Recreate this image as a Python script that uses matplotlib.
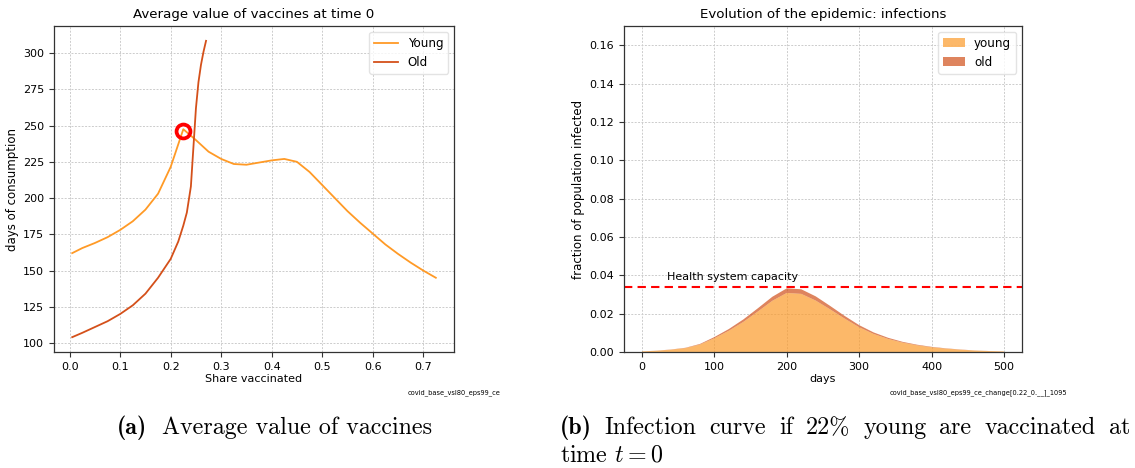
import matplotlib

matplotlib.use("Agg")
import matplotlib.pyplot as plt

# panel (a): average value of vaccines at time 0
share_young = [0.005, 0.025, 0.05, 0.075, 0.1, 0.125, 0.15, 0.175, 0.2, 0.225,
               0.25, 0.275, 0.3, 0.325, 0.35, 0.375, 0.4, 0.425, 0.45, 0.475,
               0.5, 0.525, 0.55, 0.575, 0.6, 0.625, 0.65, 0.675, 0.7, 0.725]
value_young = [162, 165.5, 169, 173, 178, 184, 192, 203, 221.5, 247.5,
               240, 232, 227, 223.5, 223, 224.5, 226, 227, 225, 218,
               209, 200, 191, 183, 175.5, 168, 161.5, 155.5, 150, 145]
share_old = [0.005, 0.025, 0.05, 0.075, 0.1, 0.125, 0.15, 0.175, 0.2, 0.215,
             0.225, 0.232, 0.24, 0.245, 0.25, 0.255, 0.26, 0.265, 0.27]
value_old = [104, 107, 111, 115, 120, 126, 134, 145, 158, 170,
             181, 190, 208, 235, 262, 280, 292, 301, 308.5]
marked_share = 0.225
marked_value = 246.5

# panel (b): infections with 22% young vaccinated
days = [0, 20, 40, 60, 80, 100, 120, 140, 160, 180, 200, 220, 240,
        260, 280, 300, 320, 340, 360, 380, 400, 420, 440, 460, 480, 500]
infected_young = [0.00028, 0.00065, 0.0012, 0.00204, 0.0039, 0.0072, 0.0111,
                  0.0157, 0.0211, 0.0267, 0.0308, 0.0303, 0.0268, 0.0222,
                  0.0174, 0.0129, 0.0094, 0.0068, 0.0049, 0.0035, 0.0025,
                  0.00175, 0.0012, 0.00074, 0.00046, 0.00028]
infected_old = [0.00002, 0.00005, 0.0001, 0.00016, 0.0003, 0.0006, 0.0009,
                0.0013, 0.0017, 0.0021, 0.0024, 0.0024, 0.0022, 0.0018,
                0.0014, 0.0011, 0.0008, 0.0006, 0.0004, 0.0003, 0.0002,
                0.00015, 0.0001, 0.00006, 0.00004, 0.00002]
capacity = 0.0337

caption_b_words = ["Infection", "curve", "if", "22%", "young", "are",
                   "vaccinated", "at"]

plt.rcParams.update({
    "font.family": "DejaVu Sans",
    "font.size": 8,
    "axes.edgecolor": "#333333",
    "axes.linewidth": 0.9,
    "xtick.color": "#333333",
    "ytick.color": "#333333",
    "xtick.labelcolor": "black",
    "ytick.labelcolor": "black",
    "mathtext.fontset": "cm",
})

fig = plt.figure(figsize=(11.35, 4.68), dpi=100)
ax1 = fig.add_axes([0.0476, 0.2479, 0.3524, 0.6965])
ax2 = fig.add_axes([0.5498, 0.2479, 0.3506, 0.6965])

grid_kw = dict(color="#cccccc", linestyle=(0, (2, 1.5)), linewidth=0.7)

ax1.plot(share_young, value_young, color="#ff9a26", linewidth=1.3, label="Young")
ax1.plot(share_old, value_old, color="#d4501a", linewidth=1.3, label="Old")
ax1.plot([marked_share], [marked_value], marker="o", markersize=10,
         markerfacecolor="none", markeredgecolor="#ff0000", markeredgewidth=2.7,
         linestyle="none")
ax1.set_title("Average value of vaccines at time 0", fontsize=9.6)
ax1.set_xlabel("Share vaccinated", labelpad=2)
ax1.set_ylabel("days of consumption", labelpad=3, fontsize=8.5)
ax1.set_yticks([100, 125, 150, 175, 200, 225, 250, 275, 300])
ax1.grid(True, **grid_kw)
ax1.set_axisbelow(True)
leg1 = ax1.legend(loc="upper right", fontsize=8.6, handlelength=2.0,
                  borderpad=0.4, labelspacing=0.5)
leg1.get_frame().set_edgecolor("#dddddd")
fig.text(0.40, 0.158, "covid_base_vsl80_eps99_ce", fontsize=4.8, ha="center")

ax2.stackplot(days, infected_young, infected_old,
              colors=["#fb9a29", "#d0501a"], alpha=0.7, labels=["young", "old"],
              linewidth=0)
ax2.axhline(capacity, color="#ff0000", linestyle=(0, (4, 2.5)), linewidth=1.5)
ax2.text(35, 0.0375, "Health system capacity", fontsize=8)
ax2.set_ylim(0, 0.17)
ax2.set_yticks([0.0, 0.02, 0.04, 0.06, 0.08, 0.10, 0.12, 0.14, 0.16])
ax2.yaxis.set_major_formatter(matplotlib.ticker.FormatStrFormatter("%.2f"))
ax2.set_title("Evolution of the epidemic: infections", fontsize=9.6)
ax2.set_xlabel("days", labelpad=2)
ax2.set_ylabel("fraction of population infected", labelpad=3, fontsize=8.5)
ax2.grid(True, **grid_kw)
ax2.set_axisbelow(True)
leg2 = ax2.legend(loc="upper right", fontsize=8.6, handlelength=1.8,
                  borderpad=0.4, labelspacing=0.5)
leg2.get_frame().set_edgecolor("#dddddd")
fig.text(0.862, 0.158, "covid_base_vsl80_eps99_ce_change[0.22_0.__]_1095",
         fontsize=4.75, ha="center")

# captions under the panels
cap_size = 17.3
cap_y1 = 0.072
cap_y2 = 0.013
fig.text(0.1031, cap_y1, "(a)", fontsize=cap_size, family="cmb10")
fig.text(0.1427, cap_y1, "Average value of vaccines", fontsize=cap_size,
         family="cmr10")
fig.text(0.4934, cap_y2, r"time $t = 0$", fontsize=cap_size, family="cmr10")

# first line of caption (b) is justified between the two margins
renderer = fig.canvas.get_renderer()
head = fig.text(0.4934, cap_y1, "(b)", fontsize=cap_size, family="cmb10")
words = [fig.text(0, cap_y1, w, fontsize=cap_size, family="cmr10")
         for w in caption_b_words]
fig_w = fig.bbox.width
head_w = head.get_window_extent(renderer).width / fig_w
widths = [t.get_window_extent(renderer).width / fig_w for t in words]
start = 0.4934 + head_w
right = 0.9955
gap = (right - start - sum(widths)) / len(words)
x = start + gap
for t, w in zip(words, widths):
    t.set_x(x)
    x += w + gap

fig.savefig("out.png", dpi=100, facecolor="white")
